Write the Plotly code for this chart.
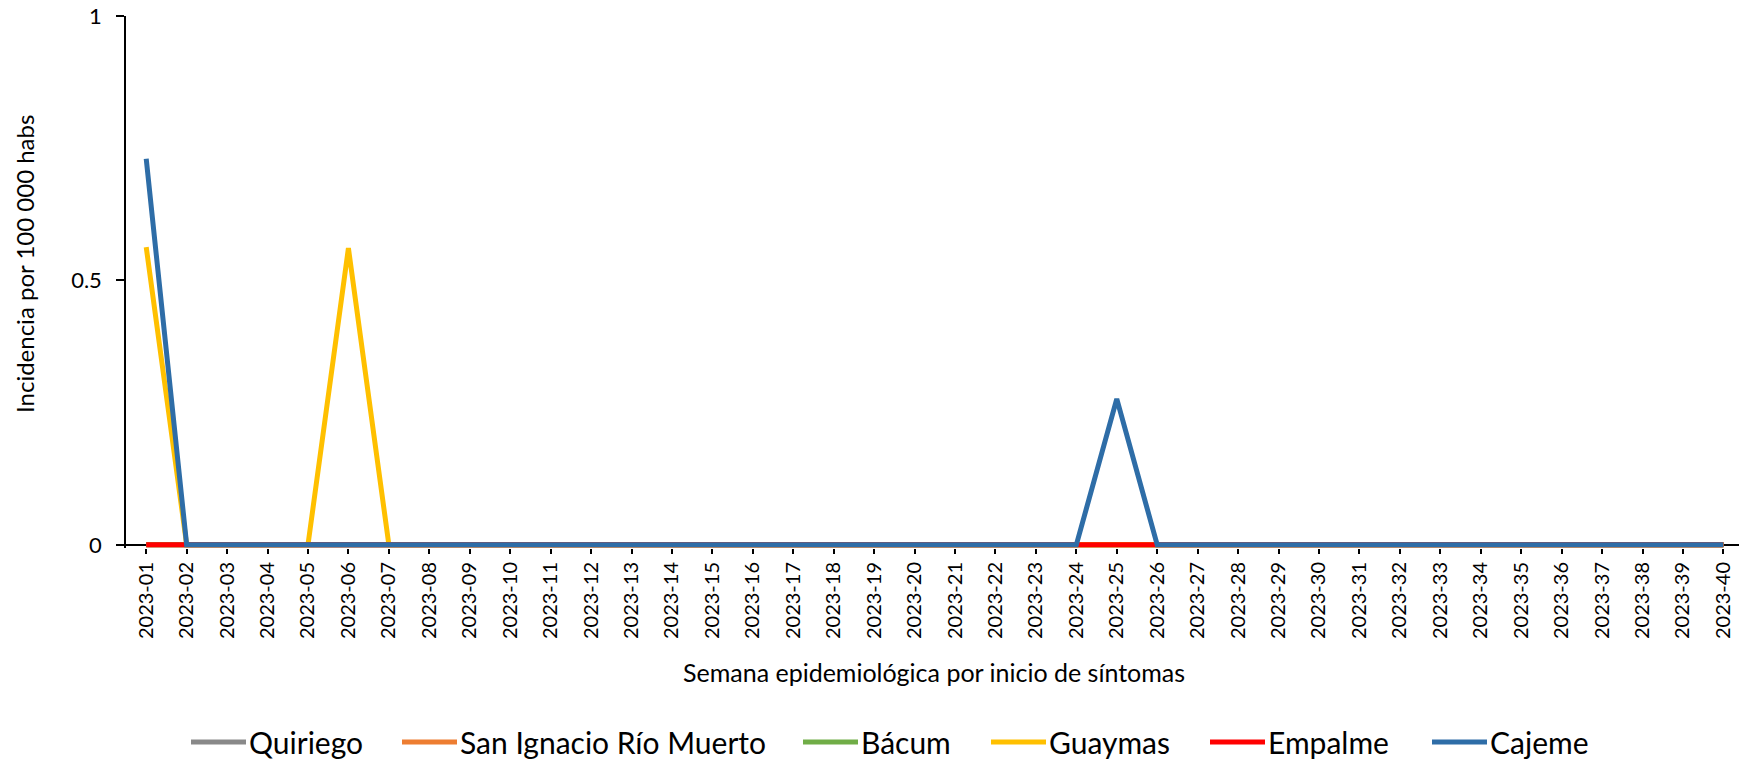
import plotly.graph_objects as go

# ---------------- data ----------------
weeks = ["2023-01", "2023-02", "2023-03", "2023-04", "2023-05", "2023-06", "2023-07", "2023-08",
         "2023-09", "2023-10", "2023-11", "2023-12", "2023-13", "2023-14", "2023-15", "2023-16",
         "2023-17", "2023-18", "2023-19", "2023-20", "2023-21", "2023-22", "2023-23", "2023-24",
         "2023-25", "2023-26", "2023-27", "2023-28", "2023-29", "2023-30", "2023-31", "2023-32",
         "2023-33", "2023-34", "2023-35", "2023-36", "2023-37", "2023-38", "2023-39", "2023-40"]

quiriego = [0, 0, 0, 0, 0, 0, 0, 0, 0, 0, 0, 0, 0, 0, 0, 0, 0, 0, 0, 0,
            0, 0, 0, 0, 0, 0, 0, 0, 0, 0, 0, 0, 0, 0, 0, 0, 0, 0, 0, 0]
san_ignacio = [0, 0, 0, 0, 0, 0, 0, 0, 0, 0, 0, 0, 0, 0, 0, 0, 0, 0, 0, 0,
               0, 0, 0, 0, 0, 0, 0, 0, 0, 0, 0, 0, 0, 0, 0, 0, 0, 0, 0, 0]
bacum = [0, 0, 0, 0, 0, 0, 0, 0, 0, 0, 0, 0, 0, 0, 0, 0, 0, 0, 0, 0,
         0, 0, 0, 0, 0, 0, 0, 0, 0, 0, 0, 0, 0, 0, 0, 0, 0, 0, 0, 0]
guaymas = [0.563, 0, 0, 0, 0, 0.561, 0, 0, 0, 0, 0, 0, 0, 0, 0, 0, 0, 0, 0, 0,
           0, 0, 0, 0, 0, 0, 0, 0, 0, 0, 0, 0, 0, 0, 0, 0, 0, 0, 0, 0]
empalme = [0, 0, 0, 0, 0, 0, 0, 0, 0, 0, 0, 0, 0, 0, 0, 0, 0, 0, 0, 0,
           0, 0, 0, 0, 0, 0, 0, 0, 0, 0, 0, 0, 0, 0, 0, 0, 0, 0, 0, 0]
cajeme = [0.73, 0, 0, 0, 0, 0, 0, 0, 0, 0, 0, 0, 0, 0, 0, 0, 0, 0, 0, 0,
          0, 0, 0, 0, 0.276, 0, 0, 0, 0, 0, 0, 0, 0, 0, 0, 0, 0, 0, 0, 0]

series_names = ["Quiriego", "San Ignacio Río Muerto", "Bácum", "Guaymas", "Empalme", "Cajeme"]
series_values = [quiriego, san_ignacio, bacum, guaymas, empalme, cajeme]
series_colors = ["#898989", "#ED7D31", "#70AD47", "#FFC000", "#FF0000", "#2E6DA7"]

y_ticks = [0, 0.5, 1]
y_ticktext = ["0", "0.5", "1"]

# ---------------- layout constants (pixels) ----------------
W, H = 1739, 761
PLOT_L, PLOT_T, PLOT_B = 126, 16, 548
ML, MR, MT, MB = PLOT_L, 0, PLOT_T, H - PLOT_B
PW = W - ML - MR
PH = H - MT - MB
FONT = "Lato, 'Open Sans', sans-serif"


def px_x(px):
    return (px - PLOT_L) / PW


def px_y(py):
    return (PLOT_B - py) / PH


cat_step = 40.44
x_right = -0.5 + PW / cat_step

legend_line_x = [191, 402, 803, 991, 1210, 1432]
legend_line_len = 55
legend_y = 742

fig = go.Figure()
for name, vals, col in zip(series_names, series_values, series_colors):
    fig.add_trace(go.Scatter(
        x=weeks, y=vals, name=name, mode="lines",
        line=dict(color=col, width=5),
        showlegend=False, hoverinfo="x+y+name",
    ))

shapes = []
annotations = []
for name, col, lx in zip(series_names, series_colors, legend_line_x):
    shapes.append(dict(type="line", xref="paper", yref="paper",
                       x0=px_x(lx), x1=px_x(lx + legend_line_len),
                       y0=px_y(legend_y), y1=px_y(legend_y),
                       line=dict(color=col, width=5)))
    annotations.append(dict(text=name, xref="paper", yref="paper",
                            x=px_x(lx + legend_line_len + 1), y=px_y(legend_y),
                            xanchor="left", yanchor="middle", showarrow=False,
                            font=dict(family=FONT, size=30, color="black")))

annotations.append(dict(text="Semana epidemiológica por inicio de síntomas",
                        xref="paper", yref="paper", x=px_x(934), y=px_y(672),
                        xanchor="center", yanchor="middle", showarrow=False,
                        font=dict(family=FONT, size=25, color="black")))
annotations.append(dict(text="Incidencia por 100 000 habs",
                        xref="paper", yref="paper", x=px_x(24), y=px_y(264),
                        xanchor="center", yanchor="middle", showarrow=False,
                        textangle=-90,
                        font=dict(family=FONT, size=24, color="black")))

fig.update_layout(
    width=W, height=H,
    margin=dict(l=ML, r=MR, t=MT, b=MB, autoexpand=False),
    paper_bgcolor="white", plot_bgcolor="white",
    font=dict(family=FONT, color="black"),
    showlegend=False,
    shapes=shapes,
    annotations=annotations,
    xaxis=dict(
        type="category", range=[-0.5, x_right],
        tickangle=-90, ticks="outside", ticklen=5, tickwidth=1.5, tickcolor="black",
        showline=False, showgrid=False, zeroline=False,
        tickfont=dict(family=FONT, size=20, color="black"),
        fixedrange=True,
    ),
    yaxis=dict(
        range=[-0.006, 1], tickvals=y_ticks, ticktext=y_ticktext,
        ticks="outside", ticklen=8, tickwidth=1.5, tickcolor="black",
        showline=True, linecolor="black", linewidth=1.5,
        showgrid=False, zeroline=True, zerolinecolor="black", zerolinewidth=1.5,
        tickfont=dict(family=FONT, size=22, color="black"),
        ticklabelstandoff=10,
        fixedrange=True,
    ),
)

fig.write_html(
    "out.html",
    config={"displayModeBar": False},
    post_script="document.body.style.margin='0px';document.body.style.overflow='hidden';",
)
